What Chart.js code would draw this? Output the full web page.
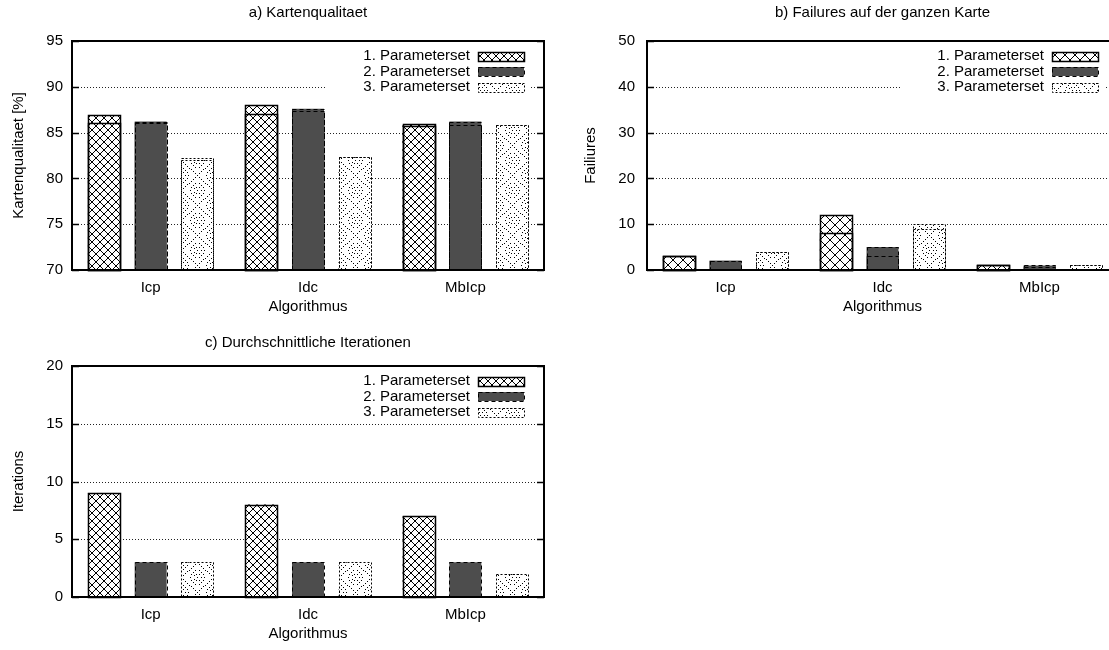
<!DOCTYPE html>
<html>
<head>
<meta charset="utf-8">
<script src="https://cdn.jsdelivr.net/npm/chart.js@4/dist/chart.umd.min.js"></script>
<style>
  html, body { margin: 0; padding: 0; background: #fff; overflow: hidden; width: 1109px; height: 650px; }
  canvas { position: absolute; }
</style>
</head>
<body>
<canvas id="chartA" width="560" height="325" style="left:0;top:0"></canvas>
<canvas id="chartB" width="580" height="325" style="left:560px;top:0"></canvas>
<canvas id="chartC" width="560" height="325" style="left:0;top:325px"></canvas>
<script>
// DATA

var categories = ['Icp', 'Idc', 'MbIcp'];
var setNames = ['1. Parameterset', '2. Parameterset', '3. Parameterset'];

// a) Kartenqualitaet [%] - upper and lower value per parameter set
var qualityHigh1 = [86.9, 88.0, 85.9];
var qualityLow1 = [86.0, 87.0, 85.7];
var qualityHigh2 = [86.2, 87.6, 86.2];
var qualityLow2 = [86.1, 87.4, 85.8];
var qualityHigh3 = [82.2, 82.3, 85.8];
var qualityLow3 = [82.0, 82.3, 85.8];
var qualityTicks = [70, 75, 80, 85, 90, 95];

// b) Failures auf der ganzen Karte
var failHigh1 = [3, 12, 1];
var failLow1 = [3, 8, 1];
var failHigh2 = [2, 5, 1];
var failLow2 = [2, 3, 0.7];
var failHigh3 = [4, 10, 1];
var failLow3 = [4, 9, 1];
var failTicks = [0, 10, 20, 30, 40, 50];

// c) Durchschnittliche Iterationen
var iter1 = [9, 8, 7];
var iter2 = [3, 3, 3];
var iter3 = [3, 3, 2];
var iterTicks = [0, 5, 10, 15, 20];

var FONT = '15px Liberation Sans, Arial, sans-serif';
Chart.defaults.font.family = 'Liberation Sans, Arial, sans-serif';
Chart.defaults.font.size = 15;
Chart.defaults.color = '#000';
Chart.defaults.animation = false;

// PATTERNS

function crossTile(size) {
  var c = document.createElement('canvas');
  c.width = size; c.height = size;
  var g = c.getContext('2d');
  g.fillStyle = '#fff';
  g.fillRect(0, 0, size, size);
  g.strokeStyle = '#000';
  g.lineWidth = 1;
  g.beginPath();
  for (var d = -size; d <= size; d += size) {
    g.moveTo(d, 0); g.lineTo(d + size, size);
    g.moveTo(d + size, 0); g.lineTo(d, size);
  }
  g.stroke();
  return c;
}

function dotTile() {
  var w = 32, h = 30;
  var c = document.createElement('canvas');
  c.width = w; c.height = h;
  var g = c.getContext('2d');
  g.fillStyle = '#fff';
  g.fillRect(0, 0, w, h);
  g.fillStyle = '#000';
  function dot(x, y) {
    g.fillRect(((Math.round(x) % w) + w) % w, ((Math.round(y) % h) + h) % h, 1, 1);
  }
  // dotted diamond lines
  for (var x = 0; x < 16; x += 2) {
    var t = x * 15 / 16;
    dot(16 + x, t);
    dot(16 - x, t);
    dot(16 + x, 30 - t);
    dot(16 - x, 30 - t);
  }
  // dotted rings in each diamond
  [[16, 15], [0, 0]].forEach(function (p) {
    dot(p[0], p[1]);
    [3.5, 7].forEach(function (r) {
      var n = Math.round(2 * Math.PI * r / 3.2);
      for (var i = 0; i < n; i++) {
        var ang = i * 2 * Math.PI / n;
        dot(p[0] + r * Math.cos(ang), p[1] + r * Math.sin(ang));
      }
    });
  });
  return c;
}

var pctx = document.createElement('canvas').getContext('2d');

function makeFill(kind, crossSize) {
  if (kind === 0) return pctx.createPattern(crossTile(crossSize), 'repeat');
  if (kind === 1) return '#4d4d4d';
  return pctx.createPattern(dotTile(), 'repeat');
}

function setOutline(ctx, kind) {
  ctx.strokeStyle = '#000';
  if (kind === 0) { ctx.lineWidth = 1.5; ctx.setLineDash([]); }
  else if (kind === 1) { ctx.lineWidth = 1; ctx.setLineDash([4, 3]); }
  else { ctx.lineWidth = 1; ctx.setLineDash([2, 2]); }
}

// gnuplot look: frame, inward ticks, dotted grid, key, titles
var gnuplotLook = {
  id: 'gnuplotLook',
  beforeDatasetsDraw: function (chart) {
    var ctx = chart.ctx, a = chart.chartArea, y = chart.scales.y;
    ctx.save();
    ctx.strokeStyle = '#222';
    ctx.lineWidth = 1;
    ctx.setLineDash([1, 2]);
    y.ticks.forEach(function (t, i) {
      if (i === 0 || i === y.ticks.length - 1) return;
      var py = Math.round(y.getPixelForValue(t.value)) + 0.5;
      ctx.beginPath();
      ctx.moveTo(a.left, py);
      ctx.lineTo(a.right, py);
      ctx.stroke();
    });
    ctx.restore();
    // align patterns to the bars
    chart.data.datasets.forEach(function (ds, di) {
      var meta = chart.getDatasetMeta(di);
      meta.data.forEach(function (bar) {
        var pat = bar.options.backgroundColor;
        if (pat && pat.setTransform) {
          var bottom = Math.round(Math.min(bar.base, a.bottom));
          var tx = Math.round(bar.x - bar.width / 2);
          var ty = bottom;
          if (ds.kind === 2) { tx = Math.round(bar.x) - 16; ty = bottom - 35; }
          pat.setTransform(new DOMMatrix([1, 0, 0, 1, tx, ty]));
        }
      });
    });
  },
  afterDatasetsDraw: function (chart) {
    var ctx = chart.ctx, a = chart.chartArea, y = chart.scales.y;
    var o = chart.options.plugins.gnuplotLook;
    ctx.save();
    // bar outlines
    chart.data.datasets.forEach(function (ds, di) {
      var meta = chart.getDatasetMeta(di);
      setOutline(ctx, ds.kind);
      meta.data.forEach(function (bar) {
        var l = Math.round(bar.x - bar.width / 2) + 0.5;
        var r = Math.round(bar.x + bar.width / 2) + 0.5;
        var t = Math.round(bar.y) + 0.5;
        var b = Math.round(Math.min(bar.base, a.bottom)) + 0.5;
        ctx.strokeRect(l, t, r - l, b - t);
      });
    });
    ctx.setLineDash([]);
    // frame
    ctx.strokeStyle = '#000';
    ctx.lineWidth = 2;
    ctx.strokeRect(a.left, a.top, a.right - a.left, a.bottom - a.top);
    // inward ticks
    ctx.lineWidth = 1.5;
    y.ticks.forEach(function (tk) {
      var py = Math.round(y.getPixelForValue(tk.value)) + 0.5;
      ctx.beginPath();
      ctx.moveTo(a.left, py); ctx.lineTo(a.left + 7, py);
      ctx.moveTo(a.right, py); ctx.lineTo(a.right - 7, py);
      ctx.stroke();
    });
    // key
    ctx.fillStyle = '#fff';
    ctx.fillRect(a.right - 217, a.top + 5, 203, 50);
    ctx.font = FONT;
    ctx.textAlign = 'right';
    ctx.textBaseline = 'middle';
    var rows = [15, 30.5, 46];
    setNames.forEach(function (name, k) {
      var ry = a.top + rows[k];
      ctx.fillStyle = '#000';
      ctx.fillText(name, a.right - 74, ry);
      var sx = Math.round(a.right - 66), sw = 46, sh = 9;
      var sy = Math.round(ry - sh / 2);
      var fill = k === 1 ? '#4d4d4d' : ctx.createPattern(k === 0 ? crossTile(o.crossSize) : dotTile(), 'repeat');
      ctx.fillStyle = fill;
      ctx.fillRect(sx, sy, sw, sh);
      setOutline(ctx, k);
      ctx.strokeRect(sx + 0.5, sy + 0.5, sw, sh);
    });
    ctx.setLineDash([]);
    // titles
    ctx.fillStyle = '#000';
    ctx.textAlign = 'center';
    var cx = (a.left + a.right) / 2;
    ctx.fillText(o.title, cx, a.top - o.titleGap);
    ctx.fillText('Algorithmus', cx, a.bottom + 37);
    ctx.translate(o.yTitleX, (a.top + a.bottom) / 2);
    ctx.rotate(-Math.PI / 2);
    ctx.fillText(o.yTitle, 0, 0);
    ctx.restore();
  }
};

function makeChart(id, cfg) {
  var datasets = [];
  var lows = cfg.lows || [];
  cfg.highs.forEach(function (vals, k) {
    if (lows[k]) {
      datasets.push({ label: setNames[k], data: lows[k], stack: 'p' + k, kind: k, order: k,
        backgroundColor: vals.map(function () { return makeFill(k, cfg.crossSize); }) });
    }
  });
  cfg.highs.forEach(function (vals, k) {
    datasets.push({ label: setNames[k], data: vals, stack: 'p' + k, kind: k, order: 10 + k,
      backgroundColor: vals.map(function () { return makeFill(k, cfg.crossSize); }) });
  });
  var ticks = cfg.ticks;
  return new Chart(document.getElementById(id), {
    type: 'bar',
    data: { labels: categories, datasets: datasets },
    options: {
      responsive: false,
      layout: { padding: { left: 0, top: cfg.top, right: cfg.right, bottom: 0 } },
      datasets: { bar: { barPercentage: 0.685, categoryPercentage: 0.891, borderWidth: 0 } },
      scales: {
        x: {
          grid: { display: false, drawTicks: false },
          border: { display: false },
          ticks: { padding: 9 },
          afterFit: function (s) { s.height = cfg.xHeight; }
        },
        y: {
          stacked: false,
          min: ticks[0],
          max: ticks[ticks.length - 1],
          grid: { display: false, drawTicks: false },
          border: { display: false },
          ticks: { padding: cfg.yPad },
          afterBuildTicks: function (s) { s.ticks = ticks.map(function (v) { return { value: v }; }); },
          afterFit: function (s) { s.width = cfg.yWidth; }
        }
      },
      plugins: {
        legend: { display: false },
        tooltip: { enabled: false },
        gnuplotLook: { title: cfg.title, titleGap: cfg.titleGap, yTitle: cfg.yTitle, yTitleX: cfg.yTitleX, crossSize: cfg.crossSize }
      }
    },
    plugins: [gnuplotLook]
  });
}

makeChart('chartA', {
  title: 'a) Kartenqualitaet', yTitle: 'Kartenqualitaet [%]',
  highs: [qualityHigh1, qualityHigh2, qualityHigh3],
  lows: [qualityLow1, qualityLow2, qualityLow3],
  ticks: qualityTicks,
  top: 41, right: 16, xHeight: 55, yWidth: 72, yPad: 9, yTitleX: 19, titleGap: 28, crossSize: 8
});

makeChart('chartB', {
  title: 'b) Failures auf der ganzen Karte', yTitle: 'Failiures',
  highs: [failHigh1, failHigh2, failHigh3],
  lows: [failLow1, failLow2, failLow3],
  ticks: failTicks,
  top: 41, right: 22, xHeight: 55, yWidth: 87, yPad: 12, yTitleX: 31, titleGap: 28, crossSize: 10
});

makeChart('chartC', {
  title: 'c) Durchschnittliche Iterationen', yTitle: 'Iterations',
  highs: [iter1, iter2, iter3],
  ticks: iterTicks,
  top: 41, right: 16, xHeight: 53, yWidth: 72, yPad: 9, yTitleX: 19, titleGap: 23, crossSize: 8
});
</script>
</body>
</html>
